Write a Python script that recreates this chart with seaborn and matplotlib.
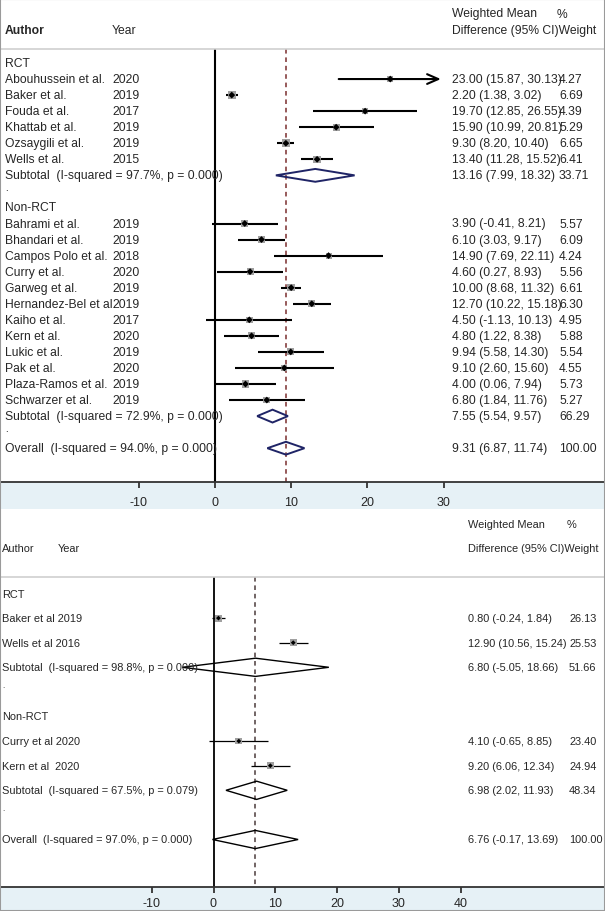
import numpy as np
import pandas as pd
import matplotlib
matplotlib.use("Agg")
import matplotlib.pyplot as plt
import seaborn as sns
from matplotlib.patches import Polygon, Rectangle

# ---- top panel data ----
top_authors = ["Abouhussein et al.", "Baker et al.", "Fouda et al.", "Khattab et al.",
               "Ozsaygili et al.", "Wells et al.",
               "Bahrami et al.", "Bhandari et al.", "Campos Polo et al.", "Curry et al.",
               "Garweg et al.", "Hernandez-Bel et al.", "Kaiho et al.", "Kern et al.",
               "Lukic et al.", "Pak et al.", "Plaza-Ramos et al.", "Schwarzer et al."]
top_years = ["2020", "2019", "2017", "2019", "2019", "2015",
             "2019", "2019", "2018", "2020", "2019", "2019", "2017", "2020",
             "2019", "2020", "2019", "2019"]
top_design = ["RCT"] * 6 + ["Non-RCT"] * 12
top_est = [23.00, 2.20, 19.70, 15.90, 9.30, 13.40,
           3.90, 6.10, 14.90, 4.60, 10.00, 12.70, 4.50, 4.80, 9.94, 9.10, 4.00, 6.80]
top_lo = [15.87, 1.38, 12.85, 10.99, 8.20, 11.28,
          -0.41, 3.03, 7.69, 0.27, 8.68, 10.22, -1.13, 1.22, 5.58, 2.60, 0.06, 1.84]
top_hi = [30.13, 3.02, 26.55, 20.81, 10.40, 15.52,
          8.21, 9.17, 22.11, 8.93, 11.32, 15.18, 10.13, 8.38, 14.30, 15.60, 7.94, 11.76]
top_weight = [4.27, 6.69, 4.39, 5.29, 6.65, 6.41,
              5.57, 6.09, 4.24, 5.56, 6.61, 6.30, 4.95, 5.88, 5.54, 4.55, 5.73, 5.27]
top_pool_text = ["Subtotal  (I-squared = 97.7%, p = 0.000)",
                 "Subtotal  (I-squared = 72.9%, p = 0.000)",
                 "Overall  (I-squared = 94.0%, p = 0.000)"]
top_pool_est = [13.16, 7.55, 9.31]
top_pool_lo = [7.99, 5.54, 6.87]
top_pool_hi = [18.32, 9.57, 11.74]
top_pool_weight = [33.71, 66.29, 100.00]
top_ticks = [-10, 0, 10, 20, 30]

# ---- bottom panel data ----
bot_labels = ["Baker et al 2019", "Wells et al 2016", "Curry et al 2020", "Kern et al  2020"]
bot_design = ["RCT", "RCT", "Non-RCT", "Non-RCT"]
bot_est = [0.80, 12.90, 4.10, 9.20]
bot_lo = [-0.24, 10.56, -0.65, 6.06]
bot_hi = [1.84, 15.24, 8.85, 12.34]
bot_weight = [26.13, 25.53, 23.40, 24.94]
bot_pool_text = ["Subtotal  (I-squared = 98.8%, p = 0.000)",
                 "Subtotal  (I-squared = 67.5%, p = 0.079)",
                 "Overall  (I-squared = 97.0%, p = 0.000)"]
bot_pool_est = [6.80, 6.98, 6.76]
bot_pool_lo = [-5.05, 2.02, -0.17]
bot_pool_hi = [18.66, 11.93, 13.69]
bot_pool_weight = [51.66, 48.34, 100.00]
bot_ticks = [-10, 0, 10, 20, 30, 40]

groups = ["RCT", "Non-RCT"]

sns.set_style("white")
plt.rcParams["font.family"] = ["Liberation Sans", "DejaVu Sans"]
plt.rcParams["axes.unicode_minus"] = False

W, H = 605, 912
fig = plt.figure(figsize=(W / 100, H / 100), dpi=100)
band = "#e6f1f6"


def layout(design):
    # row numbers: group header, studies, subtotal, ".", ... , overall
    rows, heads, subs, dots = [], [], [], []
    r = 0
    for g in groups:
        heads.append(r)
        r += 1
        for d in design:
            if d == g:
                rows.append(r)
                r += 1
        subs.append(r)
        dots.append(r + 1)
        r += 2
    subs.append(r)
    return rows, heads, subs, dots


def panel(ax, df, pool, ticks, xlim, row0, step, top_px, bot_px, hdr, style):
    to_row = lambda px: (px - row0) / step
    ax.set_xlim(*xlim)
    ax.set_ylim(to_row(bot_px), to_row(top_px))
    tr = ax.get_yaxis_transform()
    fs = style["fs"]

    # header
    line_r = to_row(hdr["line"])
    ax.axhline(line_r, color="#cfcfcf", lw=1.2)
    ax.text(hdr["ci_x"] / W, to_row(hdr["wm"]), "Weighted Mean", transform=tr, fontsize=fs, va="center")
    ax.text(hdr["w_x"] / W, to_row(hdr["wm"]), "%", transform=tr, fontsize=fs, va="center")
    ax.text(hdr["ci_x"] / W, to_row(hdr["au"]), "Difference (95% CI)Weight", transform=tr, fontsize=fs, va="center")
    ax.text(hdr["lab_x"] / W, to_row(hdr["au"]), "Author", transform=tr, fontsize=fs, va="center",
            fontweight=style["bold"])
    ax.text(hdr["yr_x"] / W, to_row(hdr["au"]), "Year", transform=tr, fontsize=fs, va="center")

    bottom_r = to_row(bot_px)
    ax.vlines(0, line_r, bottom_r, color="black", lw=style["vlw"], zorder=1)
    ax.vlines(pool["est"].iloc[-1], line_r, bottom_r, color=style["ref"], lw=1.1,
              linestyles=(0, (3, 2.5)), zorder=1)

    rows, heads, subs, dots = layout(list(df["design"]))
    df = df.assign(row=rows)
    for g, r in zip(groups, heads):
        ax.text(hdr["lab_x"] / W, r, g, transform=tr, fontsize=fs, va="center")
    for r in dots:
        ax.text(hdr["lab_x"] / W, r - 0.25, ".", transform=tr, fontsize=fs - 2, va="center")

    clip = max(ticks)
    for _, s in df.iterrows():
        if s["hi"] > clip:
            ax.annotate("", xy=(clip, s["row"]), xytext=(s["lo"], s["row"]),
                        arrowprops=dict(arrowstyle="->,head_length=0.8,head_width=0.35",
                                        lw=style["cilw"], color="black"))
        else:
            ax.hlines(s["row"], s["lo"], s["hi"], color="black", lw=style["cilw"], zorder=2)
        ax.text(hdr["lab_x"] / W, s["row"], s["label"], transform=tr, fontsize=fs, va="center")
        if style["year_col"]:
            ax.text(hdr["yr_x"] / W, s["row"], s["year"], transform=tr, fontsize=fs, va="center")
        ax.text(hdr["ci_x"] / W, s["row"], f"{s['est']:.2f} ({s['lo']:.2f}, {s['hi']:.2f})",
                transform=tr, fontsize=fs, va="center")
        ax.text(hdr["w_x2"] / W, s["row"], f"{s['weight']:.2f}", transform=tr, fontsize=fs, va="center")

    sns.scatterplot(data=df, x="est", y="row", size="weight", sizes=(0, style["box"] * df["weight"].max()),
                    size_norm=(0, df["weight"].max()), marker="s", color="#a0a0a0", edgecolor="none",
                    legend=False, ax=ax, zorder=2.5)
    sns.scatterplot(data=df, x="est", y="row", marker="D", color="black", s=style["dot"],
                    edgecolor="none", legend=False, ax=ax, zorder=4)

    h = style["dh"]
    for r, (_, p) in zip(subs, pool.iterrows()):
        ax.add_patch(Polygon([(p["lo"], r), (p["est"], r - h), (p["hi"], r), (p["est"], r + h)],
                             closed=True, fill=False, edgecolor=style["dia"], lw=style["dlw"], zorder=3))
        ax.text(hdr["lab_x"] / W, r, p["text"], transform=tr, fontsize=fs, va="center")
        ax.text(hdr["ci_x"] / W, r, f"{p['est']:.2f} ({p['lo']:.2f}, {p['hi']:.2f})",
                transform=tr, fontsize=fs, va="center")
        ax.text(hdr["w_x2"] / W, r, f"{p['weight']:.2f}", transform=tr, fontsize=fs, va="center")

    ax.set_xticks(ticks)
    ax.set_yticks([])
    ax.set_xlabel("")
    ax.set_ylabel("")
    for side in ["top", "left", "right"]:
        ax.spines[side].set_visible(False)
    ax.spines["bottom"].set_color("#333333")
    ax.spines["bottom"].set_linewidth(1.3)
    ax.tick_params(axis="x", direction="out", length=4, width=1.3, color="#333333",
                   labelsize=style["tfs"], pad=style["pad"], bottom=True)


# top panel
top_df = pd.DataFrame({"label": top_authors, "year": top_years, "design": top_design,
                       "est": top_est, "lo": top_lo, "hi": top_hi, "weight": top_weight})
top_pool = pd.DataFrame({"text": top_pool_text, "est": top_pool_est, "lo": top_pool_lo,
                         "hi": top_pool_hi, "weight": top_pool_weight})
ax1 = fig.add_axes([0, (H - 483) / H, 1, 483 / H])
panel(ax1, top_df, top_pool, top_ticks, (-215 / 7.62, (W - 215) / 7.62), 64, 16.05, 0, 483,
      dict(wm=14.5, au=31, line=49.5, lab_x=5, yr_x=112, ci_x=452, w_x=557, w_x2=559),
      dict(fs=8.7, bold="bold", year_col=True, vlw=1.5, cilw=1.5, box=4.5, dot=12, dh=0.4,
           dia="#1f2466", dlw=1.4, ref="#7a2e2e", tfs=9, pad=6))

# bottom panel
bot_df = pd.DataFrame({"label": bot_labels, "year": "", "design": bot_design,
                       "est": bot_est, "lo": bot_lo, "hi": bot_hi, "weight": bot_weight})
bot_pool = pd.DataFrame({"text": bot_pool_text, "est": bot_pool_est, "lo": bot_pool_lo,
                         "hi": bot_pool_hi, "weight": bot_pool_weight})
ax2 = fig.add_axes([0, (H - 888) / H, 1, (888 - 510) / H])
panel(ax2, bot_df, bot_pool, bot_ticks, (-213.5 / 6.18, (W - 213.5) / 6.18), 594.5, 24.6, 510, 888,
      dict(wm=525.3, au=548.6, line=577.7, lab_x=2, yr_x=58, ci_x=468, w_x=567, w_x2=569),
      dict(fs=7.9, bold="normal", year_col=False, vlw=1.3, cilw=0.9, box=1.0, dot=6, dh=0.37,
           dia="black", dlw=1.0, ref="#4a3a3a", tfs=9, pad=3))

# light blue axis bands and outer frame
fig.add_artist(Rectangle((0, (H - 510) / H), 1, 27 / H, transform=fig.transFigure,
                         facecolor=band, edgecolor="none", zorder=-1))
fig.add_artist(Rectangle((0, 0), 1, 24 / H, transform=fig.transFigure,
                         facecolor=band, edgecolor="none", zorder=-1))
fig.add_artist(Rectangle((0, 0), 1, 1, transform=fig.transFigure, fill=False,
                         edgecolor="#9a9a9a", lw=1.5, zorder=10))

fig.savefig("out.png", dpi=100)
